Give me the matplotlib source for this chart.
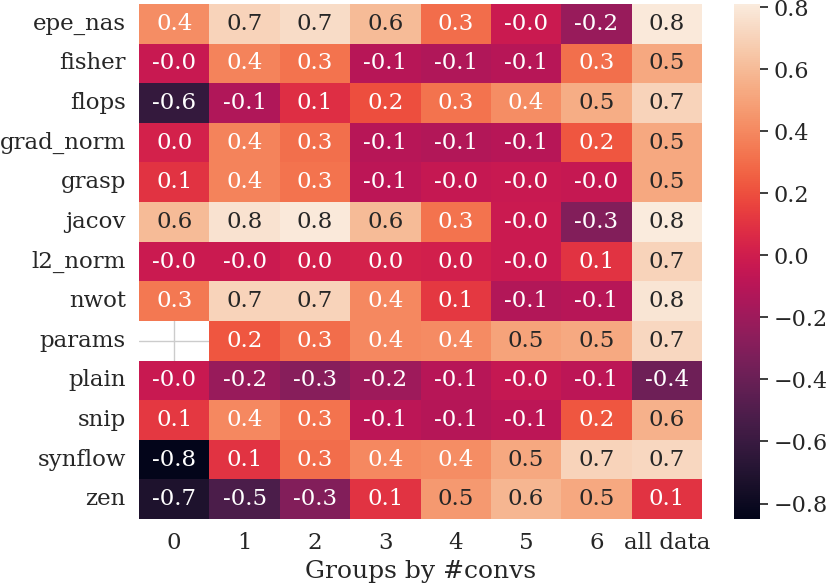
import numpy as np
import pandas as pd
import matplotlib
matplotlib.use("Agg")
import matplotlib.pyplot as plt
import seaborn as sns

# correlation per group
proxies = ['epe_nas', 'fisher', 'flops', 'grad_norm', 'grasp', 'jacov', 'l2_norm',
           'nwot', 'params', 'plain', 'snip', 'synflow', 'zen']
groups = ['0', '1', '2', '3', '4', '5', '6', 'all data']

epe_nas   = [0.42, 0.70, 0.74, 0.60, 0.30, -0.02, -0.22, 0.80]
fisher    = [-0.03, 0.38, 0.32, -0.10, -0.13, -0.10, 0.31, 0.52]
flops     = [-0.62, -0.13, 0.08, 0.20, 0.32, 0.42, 0.54, 0.70]
grad_norm = [0.02, 0.38, 0.31, -0.10, -0.12, -0.10, 0.22, 0.52]
grasp     = [0.10, 0.38, 0.32, -0.08, -0.04, -0.03, -0.04, 0.52]
jacov     = [0.60, 0.77, 0.80, 0.60, 0.32, -0.02, -0.30, 0.81]
l2_norm   = [-0.02, -0.02, 0.01, 0.02, 0.01, -0.02, 0.10, 0.70]
nwot      = [0.34, 0.70, 0.70, 0.40, 0.12, -0.12, -0.10, 0.78]
params    = [np.nan, 0.22, 0.30, 0.40, 0.41, 0.50, 0.53, 0.72]
plain     = [-0.03, -0.22, -0.28, -0.20, -0.10, -0.04, -0.08, -0.38]
snip      = [0.12, 0.40, 0.32, -0.08, -0.11, -0.08, 0.22, 0.56]
synflow   = [-0.85, 0.10, 0.30, 0.40, 0.42, 0.52, 0.70, 0.72]
zen       = [-0.72, -0.52, -0.30, 0.10, 0.46, 0.58, 0.52, 0.10]

rows = [epe_nas, fisher, flops, grad_norm, grasp, jacov, l2_norm,
        nwot, params, plain, snip, synflow, zen]
df = pd.DataFrame(rows, index=proxies, columns=groups)

sns.set_theme(style='whitegrid', font='DejaVu Serif', font_scale=1.5)
plt.rcParams['font.family'] = ['DejaVu Serif']

fig = plt.figure(figsize=(8.3, 5.86), dpi=100)
ax = fig.add_axes([0.1675, 0.1143, 0.6783, 0.8789])
cax = fig.add_axes([0.8843, 0.1143, 0.0314, 0.8789])

sns.heatmap(df, annot=True, fmt='.1f', cmap='rocket', ax=ax, cbar_ax=cax,
            annot_kws={'fontsize': 16.5})
ax.set_axisbelow(True)
ax.grid(True)
ax.set_xlabel('Groups by #convs', fontsize=18)
ax.set_yticklabels(proxies, rotation=0, fontsize=16.5)
ax.set_xticklabels(groups, rotation=0, fontsize=16.5)
cax.tick_params(labelsize=16)

fig.savefig('out.png', dpi=100)
